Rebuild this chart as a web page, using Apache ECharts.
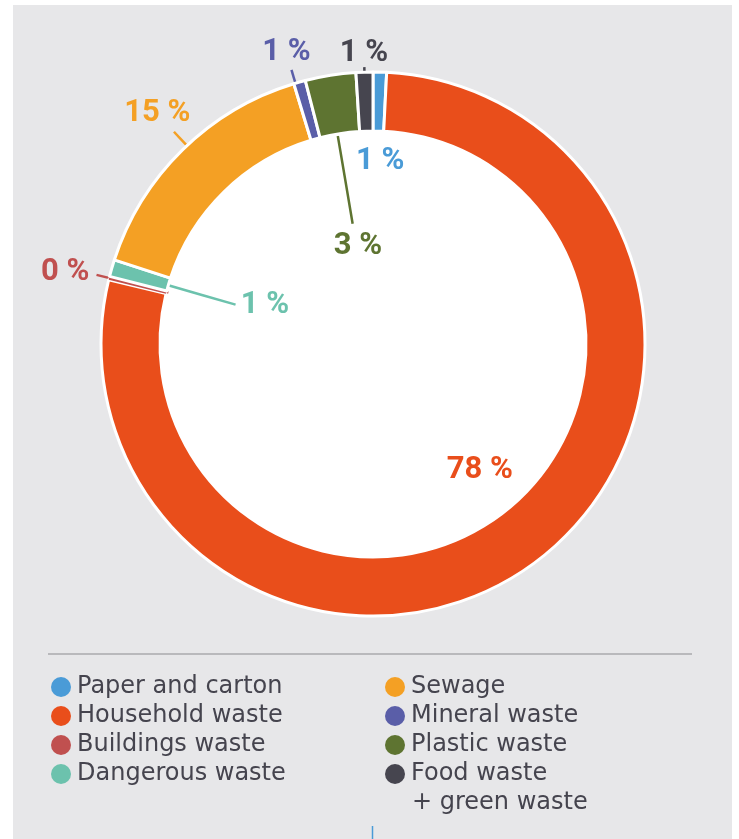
<!DOCTYPE html>
<html>
<head>
<meta charset="utf-8">
<script src="https://cdn.jsdelivr.net/npm/echarts@6/dist/echarts.min.js"></script>
<style>
  html, body { margin: 0; padding: 0; background: #ffffff; }
  #chart { width: 739px; height: 839px; }
</style>
</head>
<body>
<div id="chart"></div>
<script>
// Waste streams and their shares (%)
const categories = [
  'Paper and carton',
  'Household waste',
  'Buildings waste',
  'Dangerous waste',
  'Sewage',
  'Mineral waste',
  'Plastic waste',
  'Food waste\n+ green waste'
];
const shares = [0.8, 78.0, 0.2, 1.0, 15.3, 0.7, 3.0, 1.0];

const colors = ['#4a9bd7', '#e94e1b', '#c0504f', '#6cc2ad', '#f4a024', '#5a5ea8', '#5e7431', '#46454f'];

// Legend columns
const legendLeft = ['Paper and carton', 'Household waste', 'Buildings waste', 'Dangerous waste'];
const legendRight = ['Sewage', 'Mineral waste', 'Plastic waste', 'Food waste\n+ green waste'];

// Ring geometry
const CX = 373, CY = 344, R_IN = 213, R_OUT = 272;

// Label placement: radius of the label centre, angle offset from the slice middle,
// and optional leader line (from/to radius, angle offset)
const labelPlacement = [
  { r: 183, da: 0.8 },
  { r: 165, da: -3.6 },
  { r: 316, da: -1.0, line: [211, 285], lda: 0 },
  { r: 115, da: 3.7, line: [213, 143], lda: -0.2 },
  { r: 316, da: 1.4, line: [273, 291], lda: 1.3 },
  { r: 304, da: -0.9, line: [270, 286], lda: -0.9 },
  { r: 99, da: 0.3, line: [211, 122], lda: -0.6 },
  { r: 291, da: 0, line: [271, 277], lda: 0 }
];

const total = shares.reduce((a, b) => a + b, 0);
const midAngles = [];
{
  let acc = 0;
  shares.forEach(v => { midAngles.push((acc + v / 2) / total * 360); acc += v; });
}
function polar(r, deg) {
  const a = deg * Math.PI / 180;
  return [CX + r * Math.sin(a), CY - r * Math.cos(a)];
}

const labelFont = 'Roboto, "Liberation Sans", sans-serif';
const legendFont = '"DejaVu Sans", Inter, sans-serif';
const legendColor = '#45444e';

const pieData = categories.map((name, i) => {
  const item = {
    name: name,
    value: shares[i],
    itemStyle: { color: colors[i] },
    label: { color: colors[i] },
    labelLine: { show: !!labelPlacement[i].line, lineStyle: { color: colors[i] } }
  };
  if (i === 2) item.itemStyle.borderWidth = 0;
  return item;
});

// legend rows
const ROW = 29, LEGEND_TOP = 675, LINE_H = 24;
const legendCommon = {
  orient: 'vertical',
  top: LEGEND_TOP,
  padding: 0,
  icon: 'circle',
  itemWidth: 22,
  itemHeight: 20,
  itemGap: ROW - LINE_H,
  selectedMode: false,
  itemStyle: { borderWidth: 0 },
  // multi-line names keep only their first line next to the marker
  formatter: name => name.split('\n')[0],
  textStyle: { fontFamily: legendFont, fontSize: 24, lineHeight: LINE_H, color: legendColor }
};

// continuation lines of multi-line legend names, placed on the row below
const continuation = [];
legendRight.forEach((name, row) => {
  const parts = name.split('\n');
  parts.slice(1).forEach((t, k) => {
    continuation.push({
      type: 'text',
      left: 385 + 22 + 5,
      top: LEGEND_TOP + (row + 1 + k) * ROW,
      style: { text: t, font: '24px ' + legendFont, fill: legendColor, lineHeight: LINE_H, height: LINE_H, verticalAlign: 'top' },
      silent: true
    });
  });
});

const chart = echarts.init(document.getElementById('chart'), null, { renderer: 'canvas' });

chart.setOption({
  backgroundColor: '#ffffff',
  animation: false,
  graphic: [
    { type: 'rect', z: -10, shape: { x: 13, y: 5, width: 719, height: 834 }, style: { fill: '#e7e7e9' }, silent: true },
    { type: 'line', z: -5, shape: { x1: 48, y1: 654, x2: 692, y2: 654 }, style: { stroke: '#b9b9bc', lineWidth: 2 }, silent: true },
    { type: 'line', z: -5, shape: { x1: 372.5, y1: 826, x2: 372.5, y2: 839 }, style: { stroke: '#4a9bd7', lineWidth: 1.5 }, silent: true }
  ].concat(continuation),
  legend: [
    Object.assign({}, legendCommon, { data: legendLeft, left: 51 }),
    Object.assign({}, legendCommon, { data: legendRight, left: 385 })
  ],
  series: [
    {
      // white disc filling the middle of the ring
      type: 'pie',
      center: [CX, CY],
      radius: [0, R_IN],
      silent: true,
      label: { show: false },
      labelLine: { show: false },
      itemStyle: { color: '#ffffff' },
      data: [{ value: 1, name: '' }],
      z: 1
    },
    {
      type: 'pie',
      center: [CX, CY],
      radius: [R_IN, R_OUT],
      startAngle: 90,
      clockwise: true,
      avoidLabelOverlap: false,
      silent: true,
      z: 2,
      itemStyle: { borderColor: '#ffffff', borderWidth: 3 },
      label: {
        show: true,
        position: 'outside',
        fontFamily: labelFont,
        fontWeight: 'bold',
        fontSize: 31,
        formatter: p => Math.round(p.value) + ' %'
      },
      labelLine: { show: true, length: 10, length2: 10, lineStyle: { width: 2.5 } },
      labelLayout: function (p) {
        const i = p.dataIndex;
        const pl = labelPlacement[i];
        const m = midAngles[i];
        const pt = polar(pl.r, m + pl.da);
        const out = { x: pt[0], y: pt[1], align: 'center', verticalAlign: 'middle' };
        if (pl.line) {
          const a = m + pl.lda;
          out.labelLinePoints = [
            polar(pl.line[0], a),
            polar((pl.line[0] + pl.line[1]) / 2, a),
            polar(pl.line[1], a)
          ];
        }
        return out;
      },
      data: pieData
    }
  ]
});
</script>
</body>
</html>
